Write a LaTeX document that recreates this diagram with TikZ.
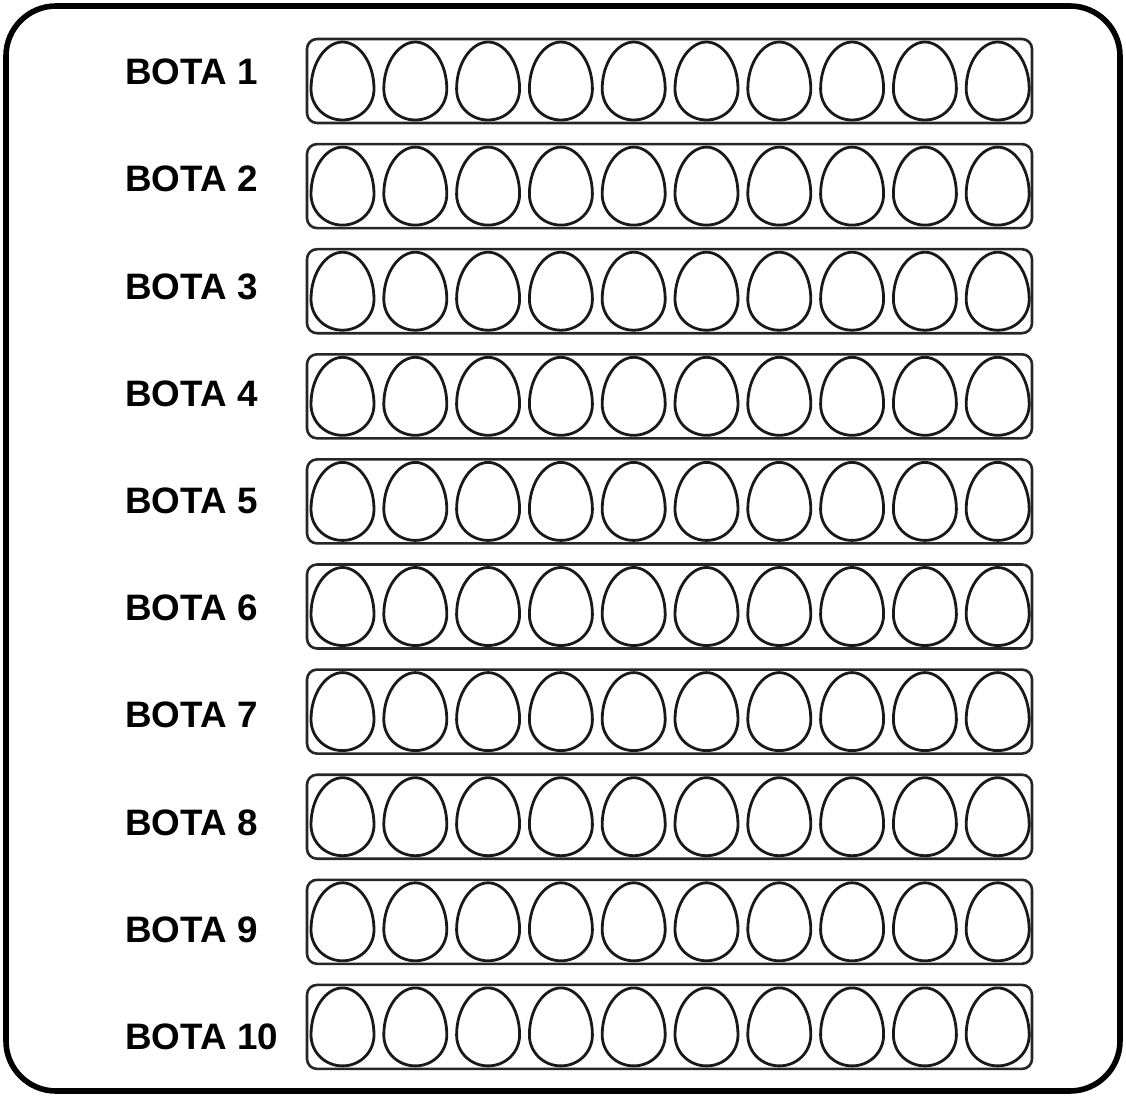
\documentclass[tikz,border=0pt]{standalone}
\usepackage{fontspec}
\setmainfont{Liberation Sans}

\tikzset{
	tray/.style={draw=black!85, line width=1.3pt, rounded corners=5pt, minimum width=362.5pt, minimum height=42pt, inner sep=0pt},
	egg/.style={draw=black!90, line width=1.4pt},
	botalabel/.style={anchor=west, inner sep=0pt, font=\bfseries\fontsize{18.4}{20}\selectfont}
}

\begin{document}
\begin{tikzpicture}[x=0.5pt, y=-0.5pt]
	\useasboundingbox (0,0) rectangle (1126,1097);
	% outer frame
	\draw[line width=2.8pt, rounded corners=25pt] (6,6) rectangle (1120,1091);
	\foreach \i in {1,...,10} {
		\pgfmathsetmacro\ty{81+105.1*(\i-1)}
		\pgfmathsetmacro\ly{72+107.2*(\i-1)}
		\node[botalabel] (lbl\i) at (125,\ly) {BOTA \i};
		\node[tray] (tray\i) at (669.5,\ty) {};
		% eggs, bottom point at (x, ty+39)
		\foreach \j in {1,...,10} {
			\pgfmathsetmacro\ex{342.5+72.8*(\j-1)}
			\draw[egg, shift={(\ex,\ty+39)}] (0,0) .. controls (17.4,0) and (31.5,-13.5) .. (31.5,-31)
				.. controls (31.5,-58) and (16,-78) .. (0,-78)
				.. controls (-16,-78) and (-31.5,-58) .. (-31.5,-31)
				.. controls (-31.5,-13.5) and (-17.4,0) .. (0,0) -- cycle;
		}
	}
\end{tikzpicture}
\end{document}
